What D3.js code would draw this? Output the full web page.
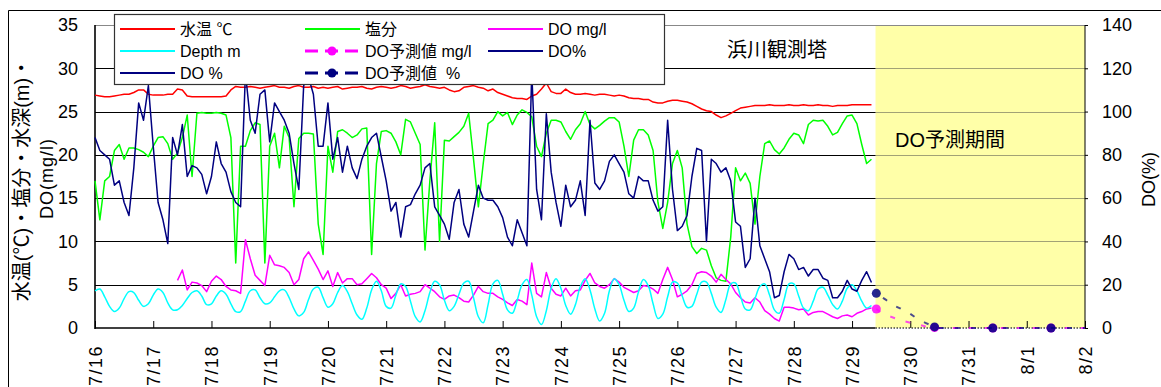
<!DOCTYPE html>
<html>
<head>
<meta charset="utf-8">
<script src="https://cdn.jsdelivr.net/npm/d3@7/dist/d3.min.js"></script>
<style>
  body { margin: 0; background: #fff; }
  svg text { font-family: "Liberation Sans", "Noto Sans CJK JP", sans-serif; fill: #000; }
</style>
</head>
<body>
<svg id="chart" width="1161" height="387"></svg>
<script>
// observed values: every 2 hours, 7/16 00:00 .. 7/29 08:00
const obsStart = new Date(2009, 6, 16, 0);
// forecast values: every 2 hours, 7/29 10:00 .. 8/2 00:00
const fcStart = new Date(2009, 6, 29, 10);
const stepHours = 2;

const dayLabels = ['7/16', '7/17', '7/18', '7/19', '7/20', '7/21', '7/22', '7/23', '7/24',
  '7/25', '7/26', '7/27', '7/28', '7/29', '7/30', '7/31', '8/1', '8/2'];
const leftTicks = [0, 5, 10, 15, 20, 25, 30, 35];
const rightTicks = [0, 20, 40, 60, 80, 100, 120, 140];

// 水温 ℃
const waterTemp = [
  26.9, 26.8, 26.7, 26.7, 26.8, 26.9, 27.0, 27.0, 27.2, 27.5, 27.5, 27.0,
  26.9, 26.9, 26.9, 27.0, 27.0, 27.6, 27.5, 26.8, 26.7, 26.7, 26.7, 26.7,
  26.7, 26.7, 26.7, 26.8, 27.5, 27.9, 27.8, 27.8, 27.9, 27.8, 27.7, 27.8,
  27.9, 28.0, 27.8, 27.8, 27.7, 27.9, 28.0, 27.8, 27.8, 27.9, 27.7, 27.8,
  27.7, 27.8, 27.9, 27.6, 27.7, 27.8, 27.8, 27.9, 27.7, 27.6, 27.8, 27.9,
  27.8, 27.7, 27.8, 28.0, 27.9, 27.7, 27.8, 27.9, 28.1, 27.9, 27.8, 27.7,
  27.8, 27.5, 27.3, 27.4, 27.8, 27.9, 28.0, 27.8, 27.7, 27.4, 27.6, 27.2,
  27.0, 26.8, 26.6, 26.5, 26.5, 26.4, 26.8, 27.0, 27.6, 28.3, 27.3, 27.1,
  27.1, 27.6, 27.2, 27.0, 27.0, 27.1, 27.0, 26.9, 27.0, 27.0, 26.9, 26.8,
  26.9, 26.8, 26.6, 26.5, 26.5, 26.4, 26.4, 26.1, 26.0, 26.0, 26.2, 26.3,
  26.3, 26.2, 26.1, 25.9, 25.6, 25.3, 25.1, 25.0, 24.6, 24.3, 24.5, 24.8,
  25.1, 25.4, 25.5, 25.6, 25.7, 25.7, 25.7, 25.8, 25.7, 25.7, 25.7, 25.8,
  25.7, 25.7, 25.8, 25.7, 25.7, 25.8, 25.7, 25.7, 25.6, 25.7, 25.7, 25.7,
  25.8, 25.8, 25.8, 25.8, 25.8
];

// 塩分
const salinity = [
  17, 12.5, 17, 17.5, 20.5, 21.2, 19.5, 20.8, 20.8, 20.6, 20.3, 19.8,
  21, 22, 22.1, 21.3, 19.5, 20.2, 22, 24.6, 17.5, 24.8, 24.9, 24.8,
  24.8, 24.9, 24.8, 24.6, 22, 7.5, 21, 21, 22.8, 23.7, 23.5, 7.5,
  21, 22.5, 18.5, 23.3, 22, 14, 21.9, 22.5, 22.5, 22.4, 12, 8.5,
  21, 18, 22.7, 22.9, 22.5, 22, 22.3, 23, 23.1, 8.5, 19, 22.7,
  22.8, 22.5, 21.5, 20, 24.1, 23.8, 22.5, 21.2, 9, 17, 23.7, 10,
  21.7, 21.6, 22.1, 22.6, 23.3, 24.8, 19.5, 14, 19, 23.6, 24, 25,
  24.5, 24.9, 23.5, 24.6, 25.2, 24.9, 24.4, 21, 19.8, 22.5, 24, 24,
  23.8, 22.7, 21.8, 22.9, 23.6, 25, 23.5, 23, 23.4, 23.9, 24.3, 24.3,
  23.8, 21, 17.5, 21.7, 22.9, 22.9, 22.3, 20.5, 14.5, 11.5, 14.5, 19,
  20.5, 18.5, 12, 9.4, 8.6, 9.2, 9.0, 7.2, 5.8, 5.5, 5.4, 10.5,
  18.5, 17, 17.9, 16.7, 12, 17.5, 21.3, 21.6, 20.6, 20.1, 20.8, 21.8,
  22.5, 22.3, 21.3, 23.5, 24, 23.9, 24, 23.3, 22.3, 22.6, 23.6, 24.5,
  24.6, 23.6, 21.2, 19, 19.5
];

// DO mg/l (no data before 7/17 10:00)
const doMg = [
  null, null, null, null, null, null, null, null, null, null, null, null,
  null, null, null, null, null, 5.5, 6.7, 4.4, 5.3, 5.2, 4.9, 4.2,
  5.4, 6.0, 5.6, 4.8, 4.4, 4.3, 4.0, 10.2, 8.0, 6.1, 5.5, 4.9,
  8.4, 7.3, 7.2, 7.0, 6.4, 5.0, 5.6, 8.0, 8.8, 7.8, 6.8, 5.6,
  6.6, 4.8, 6.4, 5.2, 5.7, 5.7, 5.0, 5.1, 5.7, 6.3, 5.8, 5.0,
  4.6, 3.4, 4.0, 5.0, 3.7, 3.9, 4.0, 4.2, 5.0, 4.6, 4.2, 3.6,
  3.3, 3.7, 3.8, 3.5, 3.1, 3.0, 3.8, 4.8, 4.2, 4.0, 4.0, 3.6,
  3.3, 2.9, 2.6, 3.3, 3.1, 2.7, 7.5, 4.0, 3.6, 6.4, 4.6, 3.9,
  3.7, 4.6, 3.7, 4.3, 4.4, 5.5, 6.3, 5.2, 4.8, 4.6, 5.0, 5.7,
  5.3, 4.7, 4.4, 4.1, 4.3, 4.9, 4.8, 4.5, 4.0, 5.6, 7.0, 5.6,
  3.6, 3.9, 4.3, 5.0, 6.3, 6.5, 6.4, 6.0, 5.3, 6.2, 5.6, 5.1,
  4.1, 3.5, 3.0, 2.9, 3.5, 3.0, 2.0, 1.6, 1.1, 0.8, 2.4, 2.4,
  2.3, 2.1, 2.2, 1.5, 1.8, 1.9, 1.9, 1.6, 1.3, 1.1, 1.4, 1.5,
  1.3, 1.7, 1.9, 2.2, 2.3
];

// Depth m
const depth = [
  4.3, 4.5, 3.6, 2.5, 1.9, 2.3, 3.4, 4.2, 4.1, 3.2, 2.5, 2.8,
  3.8, 4.5, 4.1, 2.9, 2.1, 2.1, 2.6, 3.4, 4.1, 4.3, 3.7, 2.7,
  2.8, 3.7, 4.3, 3.9, 2.8, 1.9, 1.9, 3.1, 4.3, 4.4, 3.5, 2.8,
  2.9, 3.6, 4.3, 4.4, 3.5, 2.2, 1.4, 1.8, 3.3, 4.5, 4.7, 3.5,
  2.4, 2.8, 4.1, 4.9, 4.2, 2.8, 1.5, 1.0, 2.3, 4.4, 5.4, 4.3,
  2.5, 2.3, 3.8, 5.1, 4.8, 3.1, 1.3, 0.7, 2.0, 4.1, 5.4, 5.0,
  3.2, 2.0, 2.5, 3.9, 5.2, 5.4, 3.5, 1.3, 0.6, 2.7, 5.1, 5.5,
  3.9, 2.1, 1.7, 3.2, 5.0, 5.6, 3.8, 1.3, 0.4, 2.0, 4.6, 5.7,
  4.6, 2.6, 1.6, 2.7, 4.8, 5.7, 4.4, 2.2, 0.8, 1.7, 4.3, 5.7,
  5.0, 3.2, 1.9, 2.3, 4.2, 5.6, 4.9, 2.8, 1.1, 1.6, 3.6, 5.3,
  5.2, 3.7, 2.4, 2.5, 3.9, 5.3, 5.3, 4.0, 2.4, 1.8, 3.3, 5.1,
  5.2, 3.7, 2.2, 2.1, 3.4, 4.8, 5.1, 3.8, 2.1, 1.7, 3.3, 5.1,
  5.1, 3.7, 2.3, 2.0, 3.1, 4.5, 4.7, 3.8, 2.7, 2.2, 3.1, 4.6,
  5.0, 4.3, 3.1, 2.3, 2.6
];

// DO % (right axis)
const doPct = [
  88, 82, 80, 78, 66, 68, 58, 52, 74, 104, 96, 112,
  84, 58, 50, 39, 88, 80, 94, 70, 75, 74, 71, 62,
  70, 86, 76, 72, 63, 58, 56, 118, 96, 90, 108, 110,
  86, 104, 100, 96, 90, 76, 64, 112, 116, 108, 84, 84,
  104, 78, 88, 72, 84, 74, 69, 78, 84, 88, 90, 79,
  68, 54, 58, 42, 56, 57, 62, 66, 74, 76, 56, 52,
  48, 41, 58, 64, 48, 42, 54, 66, 60, 59, 59, 56,
  51, 42, 38, 50, 44, 38, 118, 64, 50, 99, 72, 58,
  47, 66, 56, 59, 68, 52, 96, 67, 64, 68, 77, 80,
  76, 72, 62, 60, 70, 68, 68, 59, 54, 56, 96, 64,
  45, 47, 52, 70, 83, 82, 40, 78, 76, 72, 74, 68,
  49, 47, 28, 32, 60, 38, 32, 26, 14, 15, 26, 34,
  32, 27, 28, 24, 27, 27, 23, 22, 14, 14, 17, 22,
  18, 17, 22, 26, 21
];

// DO予測値 mg/l
const fcDoMg = [
  2.2, 1.8, 1.5, 1.3, 1.1, 0.9, 0.75, 0.6, 0.45, 0.35, 0.2, 0.1,
  0.05, 0, 0, 0, 0, 0, 0, 0, 0, 0, 0, 0,
  0, 0, 0, 0, 0, 0, 0, 0, 0, 0, 0, 0,
  0, 0, 0, 0, 0, 0, 0, 0
];

// DO予測値 %
const fcDoPct = [
  16, 14.5, 13, 11, 10, 9, 7.5, 6.5, 5, 3.5, 2.5, 1.5,
  0.5, 0, 0, 0, 0, 0, 0, 0, 0, 0, 0, 0,
  0, 0, 0, 0, 0, 0, 0, 0, 0, 0, 0, 0,
  0, 0, 0, 0, 0, 0, 0, 0
];

const hour = 3600 * 1000;
const obsTime = i => new Date(+obsStart + i * stepHours * hour);
const fcTime = i => new Date(+fcStart + i * stepHours * hour);

const svg = d3.select('#chart');

// plot area
const pLeft = 95, pRight = 1085, pTop = 25, pBottom = 328;
const start = new Date(2009, 6, 16), end = new Date(2009, 7, 2);

const x = d3.scaleTime().domain([start, end]).range([pLeft, pRight]);
const yL = d3.scaleLinear().domain([0, 35]).range([pBottom, pTop]);
const yR = d3.scaleLinear().domain([0, 140]).range([pBottom, pTop]);

// outer frame of the chart
svg.append('path')
  .attr('d', 'M8.5,387 V10.5 H1161')
  .attr('fill', 'none').attr('stroke', '#000').attr('stroke-width', 1);

// horizontal grid lines
const gridVals = leftTicks.filter(v => v > 0 && v < 35);
svg.append('g').selectAll('line')
  .data(gridVals).enter().append('line')
  .attr('x1', pLeft).attr('x2', pRight)
  .attr('y1', d => Math.round(yL(d)) + 0.5).attr('y2', d => Math.round(yL(d)) + 0.5)
  .attr('stroke', '#000').attr('stroke-width', 1);

// forecast period band
const fcX = x(new Date(2009, 6, 29, 9, 40));
svg.append('rect')
  .attr('x', fcX).attr('y', pTop).attr('width', pRight - fcX).attr('height', pBottom - pTop)
  .attr('fill', '#FFFFA8');
svg.append('g').selectAll('line')
  .data(gridVals).enter().append('line')
  .attr('x1', fcX).attr('x2', pRight)
  .attr('y1', d => Math.round(yL(d)) + 0.5).attr('y2', d => Math.round(yL(d)) + 0.5)
  .attr('stroke', '#444').attr('stroke-width', 1).attr('stroke-dasharray', '1,1');

// plot border (top grey) and axis lines
svg.append('line').attr('x1', pLeft).attr('x2', pRight).attr('y1', pTop + 0.5).attr('y2', pTop + 0.5)
  .attr('stroke', '#888').attr('stroke-width', 1);
svg.append('line').attr('x1', pLeft).attr('x2', pLeft).attr('y1', pTop).attr('y2', pBottom + 1)
  .attr('stroke', '#000').attr('stroke-width', 1.6);
svg.append('line').attr('x1', pRight).attr('x2', pRight).attr('y1', pTop).attr('y2', pBottom + 1)
  .attr('stroke', '#000').attr('stroke-width', 1);
svg.append('line').attr('x1', pLeft).attr('x2', fcX).attr('y1', pBottom).attr('y2', pBottom)
  .attr('stroke', '#000').attr('stroke-width', 1.6);
svg.append('line').attr('x1', fcX).attr('x2', pRight).attr('y1', pBottom).attr('y2', pBottom)
  .attr('stroke', '#444').attr('stroke-width', 1.4).attr('stroke-dasharray', '1.5,1.5');

// x axis: inside ticks + rotated day labels
const dayTicks = d3.timeDay.range(start, d3.timeDay.offset(end, 1));
const xAxis = d3.axisBottom(x)
  .tickValues(dayTicks)
  .tickSize(-7)
  .tickFormat((d, i) => dayLabels[i]);
const gx = svg.append('g').attr('transform', `translate(0,${pBottom})`).call(xAxis);
gx.select('.domain').remove();
gx.selectAll('.tick line').attr('stroke', '#000').attr('stroke-width', 1);
gx.selectAll('.tick text')
  .attr('font-size', 18)
  .attr('letter-spacing', 1.5)
  .attr('text-anchor', 'end')
  .attr('transform', 'translate(0,17) rotate(-90)')
  .attr('x', 0).attr('y', 0).attr('dy', '0.35em');

// left axis labels
const yAxisL = d3.axisLeft(yL).tickValues(leftTicks).tickSize(0).tickPadding(17);
const gyl = svg.append('g').attr('transform', `translate(${pLeft},0)`).call(yAxisL);
gyl.select('.domain').remove();
gyl.selectAll('.tick text').attr('font-size', 18);

// right axis labels
const yAxisR = d3.axisRight(yR).tickValues(rightTicks).tickSize(3).tickPadding(14);
const gyr = svg.append('g').attr('transform', `translate(${pRight},0)`).call(yAxisR);
gyr.select('.domain').remove();
gyr.selectAll('.tick line').attr('stroke', '#000');
gyr.selectAll('.tick text').attr('font-size', 18);

// axis titles
const midY = (pTop + pBottom) / 2;
svg.append('text')
  .attr('transform', `translate(22,${midY + 3}) rotate(-90)`)
  .attr('text-anchor', 'middle').attr('dy', '0.35em').attr('font-size', 20)
  .text('水温(℃)・塩分・水深(m)・');
svg.append('text')
  .attr('transform', `translate(47,${midY + 2}) rotate(-90)`)
  .attr('text-anchor', 'middle').attr('dy', '0.35em').attr('font-size', 18)
  .attr('letter-spacing', 1)
  .text('DO(mg/l)');
svg.append('text')
  .attr('transform', `translate(1149,${midY + 3}) rotate(-90)`)
  .attr('text-anchor', 'middle').attr('dy', '0.35em').attr('font-size', 18)
  .text('DO(%)');

// station name and forecast label
svg.append('text').attr('x', 777).attr('y', 50).attr('dy', '0.35em')
  .attr('text-anchor', 'middle').attr('font-size', 20).text('浜川観測塔');
svg.append('text').attr('x', 950).attr('y', 140).attr('dy', '0.35em')
  .attr('text-anchor', 'middle').attr('font-size', 20).text('DO予測期間');

// observed series
const obsLine = (yScale, curve) => d3.line()
  .defined(d => d != null)
  .curve(curve)
  .x((d, i) => x(obsTime(i)))
  .y(d => yScale(d));

const series = [
  { values: waterTemp, color: '#FF0000', scale: yL, curve: d3.curveLinear },
  { values: salinity, color: '#00FF00', scale: yL, curve: d3.curveLinear },
  { values: doMg, color: '#FF00FF', scale: yL, curve: d3.curveLinear },
  { values: depth, color: '#00FFFF', scale: yL, curve: d3.curveCatmullRom },
  { values: doPct, color: '#000080', scale: yR, curve: d3.curveLinear }
];
series.forEach(s => {
  svg.append('path')
    .attr('d', obsLine(s.scale, s.curve)(s.values))
    .attr('fill', 'none')
    .attr('stroke', s.color)
    .attr('stroke-width', 1.5)
    .attr('stroke-linejoin', 'round');
});

// forecast series: sparse dashes with markers
const fcSeries = [
  { values: fcDoMg, color: '#FF00FF', scale: yL, offset: 0 },
  { values: fcDoPct, color: '#000080', scale: yR, offset: 8 }
];
fcSeries.forEach(s => {
  svg.append('path')
    .attr('d', d3.line().x((d, i) => x(fcTime(i))).y(d => s.scale(d))(s.values))
    .attr('fill', 'none')
    .attr('stroke', s.color)
    .attr('stroke-width', 2)
    .attr('stroke-opacity', 0.7)
    .attr('stroke-dasharray', '5,11')
    .attr('stroke-dashoffset', s.offset);
  svg.append('g').selectAll('circle')
    .data(s.values.filter((d, i) => i % 12 === 0))
    .enter().append('circle')
    .attr('cx', (d, i) => x(fcTime(i * 12)))
    .attr('cy', d => s.scale(d))
    .attr('r', 4.5)
    .attr('fill', s.color)
    .attr('fill-opacity', 0.85);
});

// legend
const legendItems = [
  { label: '水温 ℃', color: '#FF0000', dashed: false, col: 0, row: 0 },
  { label: '塩分', color: '#00FF00', dashed: false, col: 1, row: 0 },
  { label: 'DO mg/l', color: '#FF00FF', dashed: false, col: 2, row: 0 },
  { label: 'Depth m', color: '#00FFFF', dashed: false, col: 0, row: 1 },
  { label: 'DO予測値 mg/l', color: '#FF00FF', dashed: true, col: 1, row: 1 },
  { label: 'DO%', color: '#000080', dashed: false, col: 2, row: 1 },
  { label: 'DO %', color: '#000080', dashed: false, col: 0, row: 2 },
  { label: 'DO予測値\u00A0\u00A0%', color: '#000080', dashed: true, col: 1, row: 2 }
];
const legend = svg.append('g');
legend.append('rect')
  .attr('x', 114.5).attr('y', 14.5).attr('width', 550).attr('height', 70)
  .attr('fill', '#fff').attr('stroke', '#333').attr('stroke-width', 1.2);
const colX = [120, 305, 488];
const rowY = [29, 51, 73];
legendItems.forEach(it => {
  const lx = colX[it.col], ly = rowY[it.row];
  legend.append('line')
    .attr('x1', lx).attr('x2', lx + 55).attr('y1', ly).attr('y2', ly)
    .attr('stroke', it.color).attr('stroke-width', it.dashed ? 3 : 1.8)
    .attr('stroke-dasharray', it.dashed ? '13,7' : null);
  if (it.dashed) {
    legend.append('circle').attr('cx', lx + 27).attr('cy', ly).attr('r', 4.5).attr('fill', it.color);
  }
  legend.append('text')
    .attr('x', lx + 60).attr('y', ly).attr('dy', '0.35em')
    .attr('font-size', 16)
    .text(it.label);
});
</script>
</body>
</html>
